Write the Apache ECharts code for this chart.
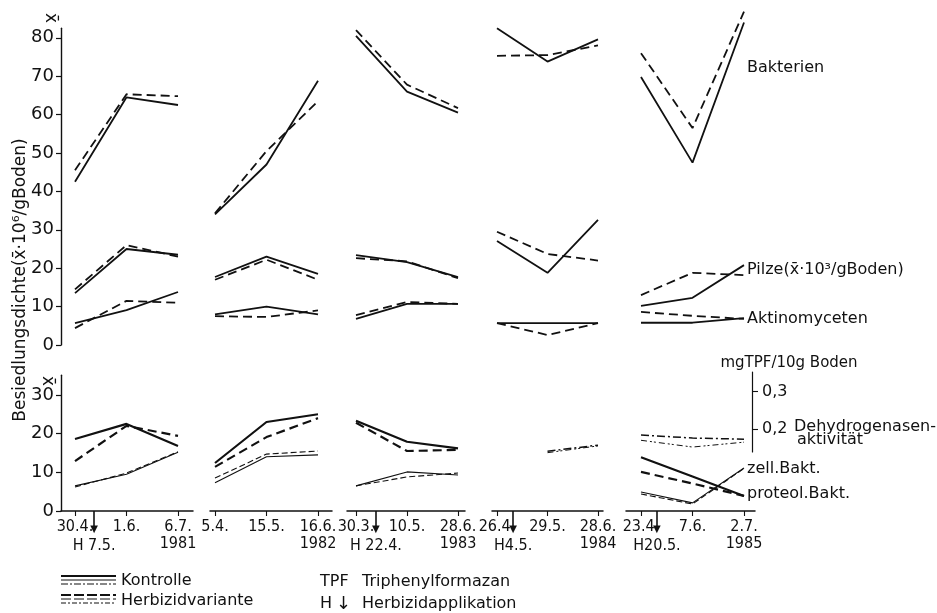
<!DOCTYPE html>
<html><head><meta charset="utf-8">
<script src="https://cdn.jsdelivr.net/npm/echarts@6/dist/echarts.min.js"></script>
<style>html,body{margin:0;padding:0;background:#fff}#c{width:937px;height:613px}</style>
</head><body><div id="c"></div>
<script>
// ---------------- DATA ----------------
const dates = ['30.4.','1.6.','6.7.', '5.4.','15.5.','16.6.', '30.3.','10.5.','28.6.', '26.4.','29.5.','28.6.', '23.4.','7.6.','2.7.'];
const years = ['1981','1982','1983','1984','1985'];
const herbLabels = ['H 7.5.', null, 'H 22.4.', 'H4.5.', 'H20.5.'];
const herbPos = [0.37, null, 0.39, 0.32, 0.31];

// upper panel (x̄·10^6 / g Boden)
const bakterienK = [42.5,64.5,62.5, 34.0,47.0,68.8, 80.5,66.0,60.5, 82.5,73.8,79.6, 69.8,47.5,84.0];
const bakterienH = [45.5,65.3,64.8, 34.3,50.5,63.5, 82.0,67.8,61.7, 75.3,75.5,78.0, 76.0,56.5,86.8];
const pilzeK     = [13.5,25.0,23.5, 17.7,23.0,18.5, 23.4,21.6,17.7, 27.1,18.8,32.6, 10.2,12.3,20.8];
const pilzeH     = [14.5,26.0,23.0, 17.0,22.2,17.0, 22.6,21.8,17.4, 29.5,23.7,22.0, 13.0,18.8,18.2];
const aktinoK    = [5.7,9.1,13.8, 8.0,10.0,8.0, 6.8,10.7,10.7, 5.7,5.7,5.7, 5.8,5.8,7.0];
const aktinoH    = [4.4,11.5,11.0, 7.5,7.3,9.0, 7.8,11.2,10.7, 5.7,2.6,5.7, 8.6,7.6,6.8];

// lower panel
const zellK    = [18.6,22.5,16.8, 12.4,23.0,25.0, 23.3,17.9,16.2, null,null,null, 13.9,8.9,3.9];
const zellH    = [12.9,22.0,19.4, 11.4,19.1,24.0, 22.8,15.5,15.8, null,null,null, 10.1,7.1,3.9];
const proteolK = [6.5,9.5,15.2, 7.3,14.0,14.5, 6.5,10.1,9.3, null,null,null, 4.9,2.1,11.1];
const proteolH = [6.2,9.8,15.3, 8.5,14.7,15.5, 6.5,8.8,9.8, null,null,null, 4.4,1.8,11.0];
// Dehydrogenasenaktivität (mg TPF / 10 g Boden)
const dehydK = [null,null,null, null,null,null, null,null,null, null,0.142,0.158, 0.185,0.177,0.174];
const dehydH = [null,null,null, null,null,null, null,null,null, null,0.138,0.156, 0.171,0.153,0.166];

const upperTicks = [0,10,20,30,40,50,60,70,80];
const lowerTicks = [0,10,20,30];
const dehydTicks = [0.2,0.3];

// ---------------- LAYOUT ----------------
const groupPx = [
  {p0:75,  step:51.5, l:61,  r:193},
  {p0:215, step:51.5, l:210, r:332},
  {p0:356, step:51,   l:347, r:465},
  {p0:497, step:50.5, l:492, r:603},
  {p0:641, step:51.5, l:626, r:755}
];
const U = {zero:345, k:3.84};
const L = {zero:511, k:3.87, max:35.1};
const DH = {min:-0.0173, max:0.3444};
const INK = '#111';
const FONT = "'DejaVu Sans', sans-serif";
const NARROW = "'Liberation Sans Narrow','DejaVu Sans Condensed','DejaVu Sans', sans-serif";

const grids = [], xAxes = [], yAxes = [], series = [];
function addGrid(left, top, width, height){
  grids.push({left, top, width, height, containLabel:false, outerBoundsMode:'none'});
  return grids.length - 1;
}
function seg(arr, g){
  return [0,1,2].map(i => [i, arr[g*3+i]]).filter(p => p[1] != null);
}
function addLine(arr, g, xi, yi, width, type){
  const d = seg(arr, g);
  if (d.length < 2) return;
  series.push({type:'line', xAxisIndex:xi, yAxisIndex:yi, data:d, symbol:'none',
    silent:true, clip:false, lineStyle:{color:INK, width:width, type:type}});
}
const DASH = [9,5], DASH_T = [6,3], DASHDOT = [8,3,2,3], DASHDOT2 = [6,3,2,2,2,3];

for (let g = 0; g < 5; g++) {
  const G = groupPx[g];
  const xmin = (G.l - G.p0) / G.step, xmax = (G.r - G.p0) / G.step;

  // ---- upper panel ----
  const maxU = g === 0 ? 82.5 : 90;
  const gu = addGrid(G.l, U.zero - maxU*U.k, G.r - G.l, maxU*U.k);
  xAxes.push({type:'value', gridIndex:gu, min:xmin, max:xmax, show:false});
  const xu = xAxes.length - 1;
  yAxes.push({type:'value', gridIndex:gu, min:0, max:maxU, show:g===0, position:'left', splitLine:{show:false},
    axisLine:{show:true, onZero:false, lineStyle:{color:INK, width:1.4}},
    axisTick:{show:true, customValues:upperTicks, length:5, lineStyle:{color:INK, width:1.2}},
    axisLabel:{customValues:upperTicks, color:INK, fontSize:18, fontFamily:FONT, margin:7}});
  const yu = yAxes.length - 1;
  addLine(bakterienK, g, xu, yu, 1.8, 'solid');
  addLine(bakterienH, g, xu, yu, 1.8, DASH);
  addLine(pilzeK, g, xu, yu, 1.8, 'solid');
  addLine(pilzeH, g, xu, yu, 1.8, DASH);
  addLine(aktinoK, g, xu, yu, 1.8, 'solid');
  addLine(aktinoH, g, xu, yu, 1.8, DASH);

  // ---- lower panel ----
  const gl = addGrid(G.l, L.zero - L.max*L.k, G.r - G.l, L.max*L.k);
  const gg = g;
  xAxes.push({type:'value', gridIndex:gl, min:xmin, max:xmax, position:'bottom',
    splitLine:{show:false},
    axisLine:{show:true, onZero:false, lineStyle:{color:INK, width:1.5}},
    axisTick:{show:true, customValues:[0,1,2], length:5, lineStyle:{color:INK, width:1.1}},
    axisLabel:{customValues:[0,1,2], color:INK, fontSize:16, fontFamily:NARROW, margin:7, lineHeight:17,
      formatter: v => { const i = Math.round(v); return dates[gg*3+i] + (i === 2 ? '\n' + years[gg] : ''); }}});
  const xl = xAxes.length - 1;
  if (herbPos[g] != null) {
    const hp = herbPos[g], hl = herbLabels[g];
    xAxes.push({type:'value', gridIndex:gl, min:xmin, max:xmax, position:'bottom',
      splitLine:{show:false},
      axisLine:{show:false, onZero:false},
      axisTick:{show:true, customValues:[hp], length:15, lineStyle:{color:INK, width:1.6}},
      axisLabel:{customValues:[hp], color:INK, margin:11,
        formatter: () => '{t|▼}\n{h|' + hl + '}',
        rich:{t:{fontSize:10, lineHeight:15, color:INK, fontFamily:FONT},
              h:{fontSize:16, lineHeight:18, color:INK, fontFamily:NARROW}}}});
  }
  yAxes.push({type:'value', gridIndex:gl, min:0, max:L.max, show:g===0, position:'left', splitLine:{show:false},
    axisLine:{show:true, onZero:false, lineStyle:{color:INK, width:1.4}},
    axisTick:{show:true, customValues:lowerTicks, length:5, lineStyle:{color:INK, width:1.2}},
    axisLabel:{customValues:lowerTicks, color:INK, fontSize:18, fontFamily:FONT, margin:7}});
  const yl = yAxes.length - 1;
  yAxes.push({type:'value', gridIndex:gl, min:DH.min, max:DH.max, show:false, splitLine:{show:false}});
  const yd = yAxes.length - 1;
  addLine(zellK, g, xl, yl, 2.2, 'solid');
  addLine(zellH, g, xl, yl, 2.2, DASH);
  addLine(proteolK, g, xl, yl, 1.1, 'solid');
  addLine(proteolH, g, xl, yl, 1.1, DASH_T);
  addLine(dehydK, g, xl, yd, 1.5, DASHDOT);
  addLine(dehydH, g, xl, yd, 1.0, DASHDOT2);
}

// right axis for dehydrogenase activity
const gr = addGrid(752, 372, 20, 80);
xAxes.push({type:'value', gridIndex:gr, min:0, max:1, show:false});
yAxes.push({type:'value', gridIndex:gr, position:'left',
  min: 0.2 - (452 - 429.3)/376, max: 0.2 + (429.3 - 372)/376, splitLine:{show:false},
  axisLine:{show:true, onZero:false, lineStyle:{color:INK, width:1.2}},
  axisTick:{show:true, inside:true, customValues:dehydTicks, length:6, lineStyle:{color:INK, width:1.1}},
  axisLabel:{inside:true, customValues:dehydTicks, color:INK, fontSize:16, fontFamily:FONT, margin:10,
    formatter: v => v.toFixed(1).replace('.', ',')}});

// ---------------- TEXT / ANNOTATIONS ----------------
function txt(text, x, y, size, align, extra){
  return Object.assign({type:'text', x:x, y:y, silent:true,
    style:{text:text, x:0, y:0, fill:INK, font:size + 'px ' + FONT,
      align:align || 'left', verticalAlign:'middle', textAlign:align || 'left', textVerticalAlign:'middle'}}, extra || {});
}
function ln(x1, y1, x2, y2, w, dash){
  return {type:'line', silent:true, shape:{x1, y1, x2, y2},
    style:{stroke:INK, lineWidth:w, lineDash:dash || null}};
}
const graphic = [
  txt('Besiedlungsdichte(x\u0304\u00b710\u2076/gBoden)', 21, 280, 17, 'center', {rotation: Math.PI/2}),
  txt('x\u0304', 50, 18, 17, 'center', {rotation: -Math.PI/2}),
  txt('x\u0304', 47, 381, 17, 'center', {rotation: -Math.PI/2}),
  txt('Bakterien', 747, 68, 16),
  txt('Pilze(x\u0304\u00b710\u00b3/gBoden)', 747, 270, 16),
  txt('Aktinomyceten', 747, 319, 16),
  txt('mgTPF/10g Boden', 789, 363, 15, 'center'),
  txt('Dehydrogenasen-', 794, 427, 16),
  txt('aktivität', 797, 440, 16),
  txt('zell.Bakt.', 747, 469, 16),
  txt('proteol.Bakt.', 747, 494, 16),
  // legend
  ln(61, 576, 116, 576, 2.0), ln(61, 580, 116, 580, 1.0), ln(61, 584, 116, 584, 1.2, [7,2,2,2]),
  ln(61, 595, 116, 595, 2.0, [10,3]), ln(61, 599, 116, 599, 1.0, [10,3]), ln(61, 603, 116, 603, 1.2, [5,2,2,2]),
  txt('Kontrolle', 121, 581, 16),
  txt('Herbizidvariante', 121, 601, 16),
  txt('TPF', 320, 582, 16),
  txt('Triphenylformazan', 362, 582, 16),
  txt('H', 320, 604, 16),
  txt('\u2193', 336, 604, 18),
  txt('Herbizidapplikation', 362, 604, 16)
];

const chart = echarts.init(document.getElementById('c'), null, {renderer:'canvas'});
chart.setOption({
  backgroundColor:'#fff',
  animation:false,
  grid:grids, xAxis:xAxes, yAxis:yAxes, series:series, graphic:graphic
});
</script></body></html>
